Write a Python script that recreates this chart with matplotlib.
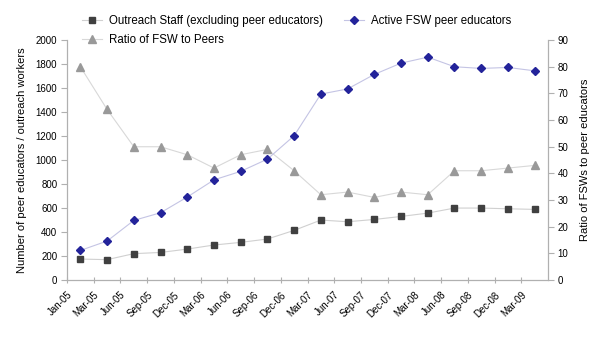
import numpy as np
import matplotlib
matplotlib.use("Agg")
from matplotlib import pyplot as plt

# === DATA ===
quarters = ["Jan-05", "Mar-05", "Jun-05", "Sep-05", "Dec-05", "Mar-06", "Jun-06", "Sep-06", "Dec-06",
            "Mar-07", "Jun-07", "Sep-07", "Dec-07", "Mar-08", "Jun-08", "Sep-08", "Dec-08", "Mar-09"]
outreach_staff = [175, 170, 220, 230, 258, 292, 314, 342, 414, 500, 486, 505, 530, 558, 600, 600, 594, 589]
peer_educators = [247, 325, 497, 561, 692, 835, 906, 1008, 1203, 1550, 1593, 1714, 1808, 1858, 1778, 1764, 1772, 1744]
fsw_ratio = [80, 64, 50, 50, 47, 42, 47, 49, 41, 32, 33, 31, 33, 32, 41, 41, 42, 43]

plt.rcParams['font.family'] = ['Liberation Sans', 'DejaVu Sans']
plt.rcParams['font.size'] = 8

# === FIGURE ===
fig = plt.figure(figsize=(6, 3.37), dpi=100)
ax = fig.add_axes([0.1117, 0.169, 0.8016, 0.712])
ax2 = ax.twinx()

x = np.arange(len(quarters))

l1, = ax.plot(x, outreach_staff, '-', color='#d0d0d0', lw=0.8, marker='s', ms=5,
              mfc='#404040', mec='#404040', label='Outreach Staff (excluding peer educators)')
l3, = ax2.plot(x, fsw_ratio, '-', color='#d8d8d8', lw=0.8, marker='^', ms=6,
               mfc='#999999', mec='#999999', label='Ratio of FSW to Peers')
l2, = ax2.plot(x, np.array(peer_educators) * 90 / 2000, '-', color='#c4c4e4', lw=0.8, marker='D', ms=4.5,
               mfc='#23239a', mec='#23239a', label='Active FSW peer educators')

ax.set_xlim(-0.5, len(quarters) - 0.5)
ax.set_ylim(0, 2000)
ax.set_yticks(range(0, 2001, 200))
ax2.set_ylim(0, 90)
ax2.set_yticks(range(0, 91, 10))

# tick marks between categories, each label ending at the tick on its left
ax.set_xticks(np.arange(-0.5, len(quarters) - 0.5, 1))
ax.set_xticklabels(quarters, rotation=45, ha='right', rotation_mode='anchor', fontsize=7)
ax.tick_params(axis='x', which='major', length=4, direction='inout', color='#b0b0b0', pad=5)
ax.tick_params(axis='y', length=4, color='#b0b0b0', pad=3, labelsize=7)
ax2.tick_params(axis='y', length=4, color='#b0b0b0', pad=3, labelsize=7)

for a in (ax, ax2):
    a.spines['top'].set_visible(False)
    for s in ('left', 'right', 'bottom'):
        a.spines[s].set_color('#b0b0b0')
        a.spines[s].set_linewidth(0.8)

ax.set_ylabel('Number of peer educators / outreach workers', labelpad=6)
ax2.set_ylabel('Ratio of FSWs to peer educators', labelpad=8)

fig.legend(handles=[l1, l3, l2], ncol=2, loc='upper left', bbox_to_anchor=(82 / 600, 1 - 15 / 337),
           frameon=False, handlelength=1.75, columnspacing=1.8, labelspacing=0.6,
           borderaxespad=0, borderpad=0, handletextpad=0.6, fontsize=8.3)

fig.savefig("out.png", dpi=100)
